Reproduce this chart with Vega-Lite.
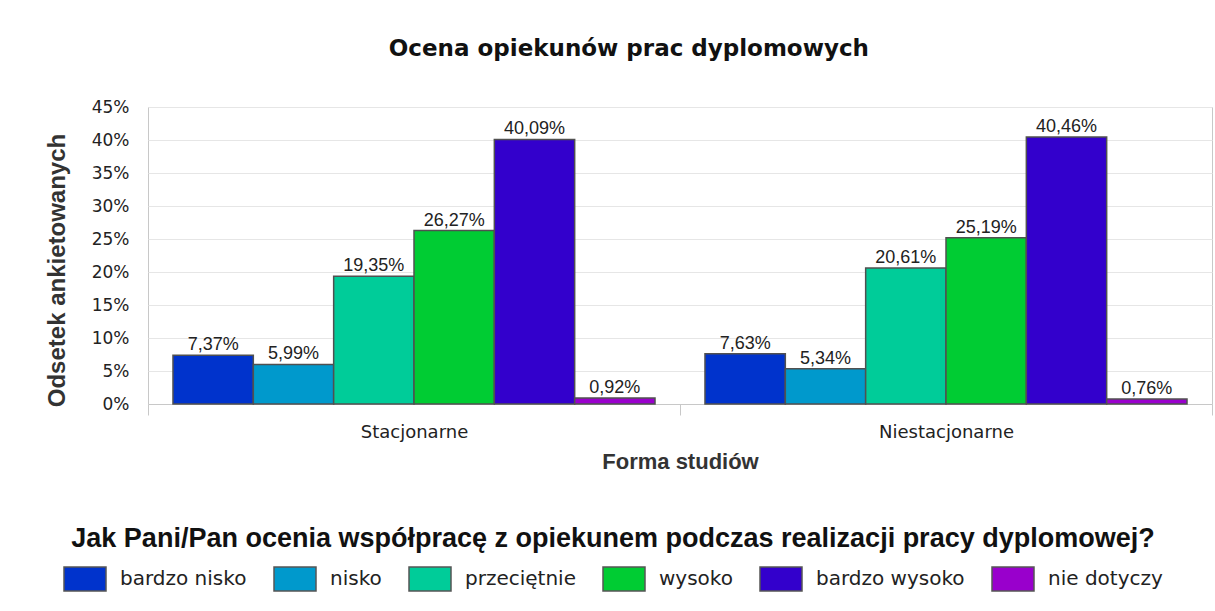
{
  "$schema": "https://vega.github.io/schema/vega-lite/v6.json",
  "width": 1064,
  "height": 297,
  "autosize": {"type": "none"},
  "padding": {"left": 148, "top": 107, "right": 3, "bottom": 207},
  "background": "white",
  "title": {
    "text": "Ocena opiekunów prac dyplomowych",
    "font": "DejaVu Sans",
    "fontSize": 23,
    "fontWeight": "bold",
    "color": "#111111",
    "anchor": "middle",
    "frame": "bounds",
    "offset": 37
  },
  "data": {
    "values": [
      {"forma": "Stacjonarne", "ocena": "bardzo nisko", "odsetek": 0.0737},
      {"forma": "Stacjonarne", "ocena": "nisko", "odsetek": 0.0599},
      {"forma": "Stacjonarne", "ocena": "przeciętnie", "odsetek": 0.1935},
      {"forma": "Stacjonarne", "ocena": "wysoko", "odsetek": 0.2627},
      {"forma": "Stacjonarne", "ocena": "bardzo wysoko", "odsetek": 0.4009},
      {"forma": "Stacjonarne", "ocena": "nie dotyczy", "odsetek": 0.0092},
      {"forma": "Niestacjonarne", "ocena": "bardzo nisko", "odsetek": 0.0763},
      {"forma": "Niestacjonarne", "ocena": "nisko", "odsetek": 0.0534},
      {"forma": "Niestacjonarne", "ocena": "przeciętnie", "odsetek": 0.2061},
      {"forma": "Niestacjonarne", "ocena": "wysoko", "odsetek": 0.2519},
      {"forma": "Niestacjonarne", "ocena": "bardzo wysoko", "odsetek": 0.4046},
      {"forma": "Niestacjonarne", "ocena": "nie dotyczy", "odsetek": 0.0076}
    ]
  },
  "encoding": {
    "x": {
      "field": "forma",
      "type": "nominal",
      "sort": ["Stacjonarne", "Niestacjonarne"],
      "scale": {"paddingInner": 0, "paddingOuter": 0},
      "title": "Forma studiów",
      "axis": {
        "tickBand": "extent",
        "tickSize": 11,
        "tickColor": "#c8c8c8",
        "domainColor": "#c8c8c8",
        "labelAngle": 0,
        "labelFont": "DejaVu Sans",
        "labelFontSize": 18,
        "labelColor": "#222222",
        "labelPadding": 8,
        "titleFont": "Liberation Sans",
        "titleFontSize": 22,
        "titleFontWeight": "bold",
        "titleColor": "#333333",
        "titlePadding": 10,
        "grid": false
      }
    },
    "xOffset": {
      "field": "ocena",
      "type": "nominal",
      "sort": ["bardzo nisko", "nisko", "przeciętnie", "wysoko", "bardzo wysoko", "nie dotyczy"],
      "scale": {"paddingInner": 0, "paddingOuter": 0.311}
    },
    "y": {
      "field": "odsetek",
      "type": "quantitative",
      "scale": {"domain": [0, 0.45], "nice": false},
      "title": "Odsetek ankietowanych",
      "axis": {
        "values": [0, 0.05, 0.1, 0.15, 0.2, 0.25, 0.3, 0.35, 0.4, 0.45],
        "format": ".0%",
        "ticks": false,
        "domain": false,
        "grid": true,
        "gridColor": "#e6e6e6",
        "labelFont": "DejaVu Sans",
        "labelFontSize": 17,
        "labelColor": "#222222",
        "labelPadding": 19,
        "titleFont": "Liberation Sans",
        "titleFontSize": 24,
        "titleFontWeight": "bold",
        "titleColor": "#333333",
        "titlePadding": 22,
        "titleY": 163
      }
    }
  },
  "layer": [
    {
      "mark": {"type": "bar", "stroke": "#505050", "strokeWidth": 1.5},
      "encoding": {
        "color": {
          "field": "ocena",
          "type": "nominal",
          "sort": ["bardzo nisko", "nisko", "przeciętnie", "wysoko", "bardzo wysoko", "nie dotyczy"],
          "scale": {
            "domain": ["bardzo nisko", "nisko", "przeciętnie", "wysoko", "bardzo wysoko", "nie dotyczy"],
            "range": ["#0033CC", "#0099CC", "#00CC99", "#00CC33", "#3300CC", "#9900CC"]
          },
          "legend": {
            "orient": "none",
            "legendX": -85,
            "legendY": 419,
            "direction": "horizontal",
            "columns": 6,
            "title": "Jak Pani/Pan ocenia współpracę z opiekunem podczas realizacji pracy dyplomowej?",
            "titleFont": "Liberation Sans",
            "titleFontSize": 27,
            "titleFontWeight": "bold",
            "titleColor": "#111111",
            "titleAnchor": "middle",
            "titlePadding": 4,
            "titleLimit": 1200,
            "symbolType": "M-1,-0.5714H1V0.5714H-1Z",
            "symbolSize": 1764,
            "symbolStrokeColor": "#555555",
            "symbolStrokeWidth": 1.5,
            "symbolOpacity": 1,
            "labelFont": "DejaVu Sans",
            "labelFontSize": 20,
            "labelColor": "#222222",
            "labelOffset": 13,
            "columnPadding": 24,
            "labelLimit": 300
          }
        }
      }
    },
    {
      "mark": {"type": "text", "dy": -5, "baseline": "alphabetic", "font": "Liberation Sans", "fontSize": 18, "color": "#222222"},
      "encoding": {
        "text": {"field": "odsetek", "type": "quantitative", "format": ".2%"}
      }
    }
  ],
  "config": {
    "locale": {"number": {"decimal": ",", "thousands": " ", "grouping": [3], "currency": ["", " zł"]}},
    "view": {"stroke": "#c8c8c8"}
  }
}
